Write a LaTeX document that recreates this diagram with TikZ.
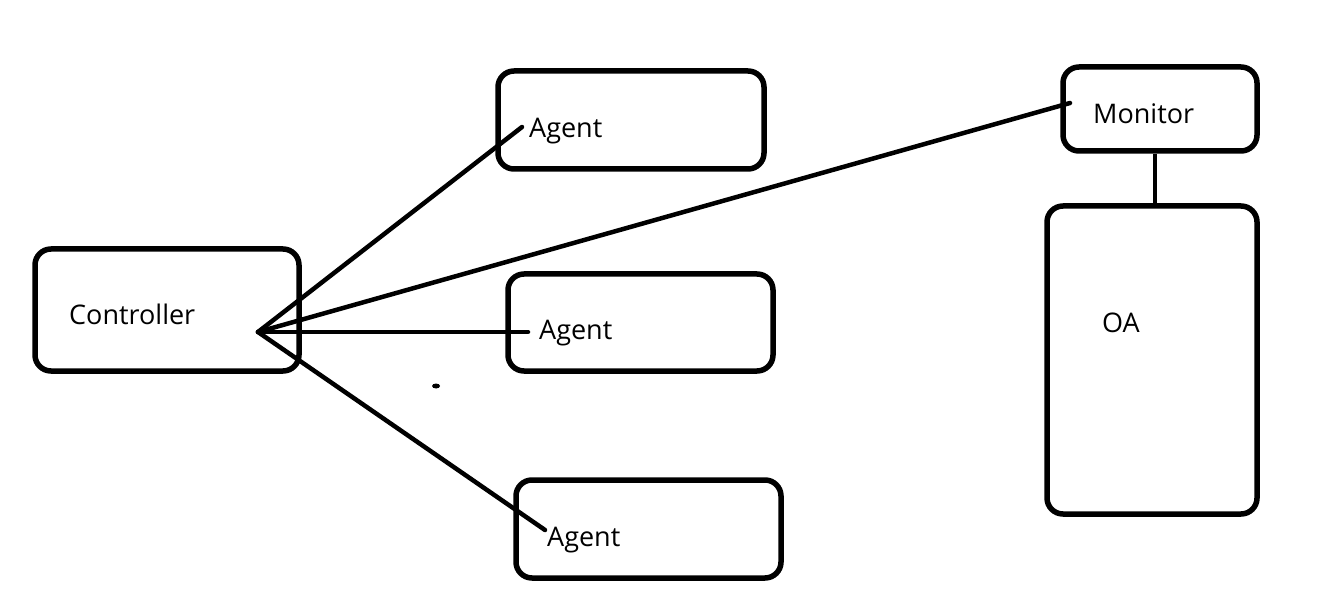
\documentclass[tikz,border=0pt]{standalone}
\usepackage{fontspec}
\setmainfont{Open Sans}
\usetikzlibrary{positioning,calc}

\tikzset{
  box/.style={draw, line width=5.5pt, rounded corners=16pt, inner sep=0pt},
  lbl/.style={anchor=west, inner sep=0pt, font=\fontsize{27}{27}\selectfont},
  wire/.style={line width=4.5pt, line cap=round}
}

\begin{document}
\begin{tikzpicture}[x=1pt, y=1pt]
    \useasboundingbox (0,0) rectangle (1321,-601);
    % boxes
    \node[box, minimum width=264pt, minimum height=122pt] (ctrl) at (167,-310) {};
    \node[box, minimum width=266pt, minimum height=98pt] (agentA) at (631,-120) {};
    \node[box, minimum width=265pt, minimum height=97pt] (agentB) at (640.5,-322.5) {};
    \node[box, minimum width=265pt, minimum height=98pt] (agentC) at (648.5,-529) {};
    \node[box, minimum width=194pt, minimum height=84pt] (monitor) at (1160,-109) {};
    \node[box, minimum width=210pt, minimum height=308pt] (oa) at (1152,-360) {};
    % texts
    \node[lbl] (ctrltxt) at (69,-314) {Controller};
    \node[lbl] (agentAtxt) at (529,-131) {Agent};
    \node[lbl] (agentBtxt) at (539,-333) {Agent};
    \node[lbl] (agentCtxt) at (547,-540) {Agent};
    \node[lbl] (monitortxt) at (1093,-114) {Monitor};
    \node[lbl] (oatxt) at (1102,-323) {OA};
    % line ends
    \coordinate (hub) at (258,-332);
    \coordinate (endA) at (522,-127);
    \coordinate (endB) at (528,-332);
    \coordinate (endC) at (545,-530);
    \coordinate (endM) at (1070,-103);
    % wires
    \draw[wire] (hub) -- (endA);
    \draw[wire] (hub) -- (endB);
    \draw[wire] (hub) -- (endC);
    \draw[wire] (hub) -- (endM);
    \draw[wire, line cap=butt] ([xshift=-5pt]monitor.south) -- ([xshift=-5pt]monitor.south |- oa.north);
    % stray mark
    \fill (436,-386) ellipse (4pt and 2.5pt);
\end{tikzpicture}
\end{document}
